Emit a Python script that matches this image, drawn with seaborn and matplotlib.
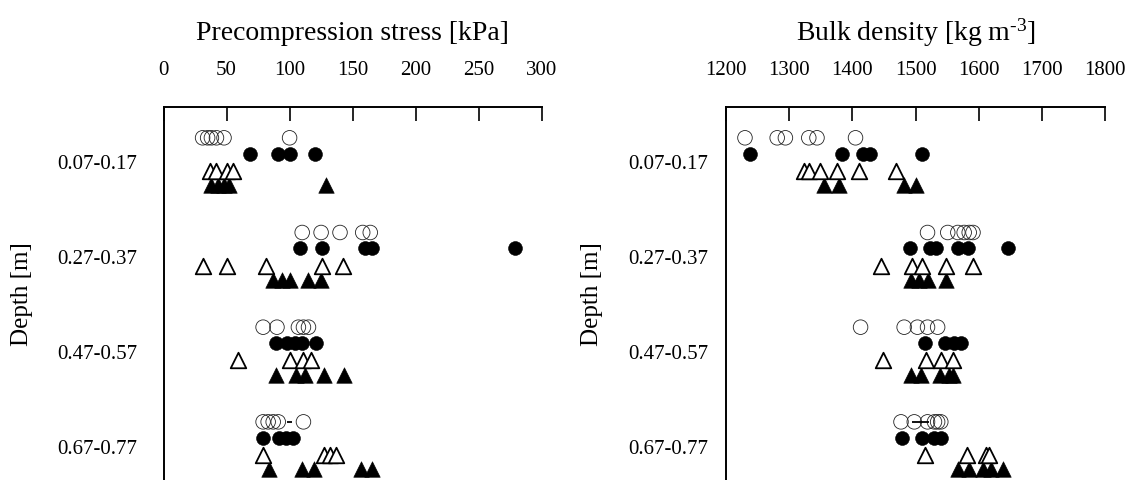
import numpy as np
import pandas as pd
import matplotlib
matplotlib.use("Agg")
import matplotlib.pyplot as plt
import seaborn as sns

# ---- data -------------------------------------------------------------
depths = ["0.07-0.17", "0.27-0.37", "0.47-0.57", "0.67-0.77"]

# Precompression stress [kPa], one list per depth layer
pc_open_circle = [[31, 35, 38, 42, 48, 100],
                  [110, 125, 140, 158, 164],
                  [79, 90, 107, 111, 115],
                  [79, 83, 87, 91, 111]]
pc_filled_circle = [[69, 91, 100, 120],
                    [108, 126, 160, 165, 279],
                    [89, 98, 104, 110, 121],
                    [79, 92, 97, 103]]
pc_open_triangle = [[37, 42, 50, 55],
                    [31, 50, 81, 126, 142],
                    [59, 100, 111, 117],
                    [79, 127, 132, 137]]
pc_filled_triangle = [[38, 43, 48, 52, 129],
                      [87, 94, 100, 115, 125],
                      [89, 105, 112, 127, 143],
                      [84, 110, 119, 157, 165]]

# Bulk density [kg m-3], one list per depth layer
bd_open_circle = [[1230, 1281, 1294, 1331, 1344, 1405],
                  [1519, 1551, 1567, 1577, 1585, 1591],
                  [1413, 1482, 1503, 1519, 1535],
                  [1477, 1498, 1519, 1530, 1535, 1540]]
bd_filled_circle = [[1238, 1384, 1417, 1428, 1511],
                    [1491, 1523, 1532, 1567, 1583, 1647],
                    [1515, 1546, 1561, 1572],
                    [1479, 1511, 1530, 1540]]
bd_open_triangle = [[1323, 1331, 1349, 1376, 1410, 1469],
                    [1445, 1495, 1511, 1548, 1591],
                    [1448, 1516, 1540, 1559],
                    [1515, 1581, 1612, 1617]]
bd_filled_triangle = [[1355, 1379, 1482, 1500],
                      [1493, 1506, 1519, 1548],
                      [1493, 1508, 1538, 1553, 1559],
                      [1567, 1585, 1607, 1620, 1638]]

# short range bars on the open-circle row of the deepest layer
pc_bar = [98, 102]
bd_bar = [1495, 1521]

pc_ticks = [0, 50, 100, 150, 200, 250, 300]
bd_ticks = [1200, 1300, 1400, 1500, 1600, 1700, 1800]

# ---- tidy table --------------------------------------------------------
series_order = ["filled_circle", "filled_triangle", "open_circle", "open_triangle"]
row_offset = {"open_circle": -0.25, "filled_circle": -0.083,
              "open_triangle": 0.10, "filled_triangle": 0.25}

panels = {
    "pc": {"open_circle": pc_open_circle, "filled_circle": pc_filled_circle,
           "open_triangle": pc_open_triangle, "filled_triangle": pc_filled_triangle},
    "bd": {"open_circle": bd_open_circle, "filled_circle": bd_filled_circle,
           "open_triangle": bd_open_triangle, "filled_triangle": bd_filled_triangle},
}

records = []
for panel, table in panels.items():
    for series, per_depth in table.items():
        for d, values in enumerate(per_depth):
            for v in values:
                records.append({"panel": panel, "series": series, "depth": d,
                                "row": d + row_offset[series], "value": v})
df = pd.DataFrame(records)

styles = {
    "open_circle": dict(marker="o", s=110, facecolor="none", edgecolor="#222222",
                        linewidth=0.6, zorder=3),
    "filled_circle": dict(marker="o", s=100, color="black", edgecolor="black",
                          linewidth=0.4, zorder=2),
    "open_triangle": dict(marker="^", s=125, color="white", edgecolor="black",
                          linewidth=1.3, zorder=4),
    "filled_triangle": dict(marker="^", s=125, color="black", edgecolor="black",
                            linewidth=0.4, zorder=2),
}

# ---- figure ------------------------------------------------------------
sns.set_style("white")
plt.rcParams["font.family"] = ["Liberation Serif", "DejaVu Serif"]
plt.rcParams["mathtext.fontset"] = "custom"
plt.rcParams["mathtext.rm"] = "Liberation Serif"
plt.rcParams["mathtext.it"] = "Liberation Serif:italic"
plt.rcParams["mathtext.bf"] = "Liberation Serif:bold"

fig = plt.figure(figsize=(11.3, 4.81), dpi=100)
ax_pc = fig.add_axes([0.1447, 0.0, 0.3347, 0.7755])
ax_bd = fig.add_axes([0.6425, 0.0, 0.3354, 0.7755])

setup = [
    (ax_pc, "pc", "Precompression stress [kPa]", pc_ticks, pc_bar, 19, -0.345),
    (ax_bd, "bd", r"Bulk density [kg m$^{\text{-3}}$]", bd_ticks, bd_bar, 13, -0.325),
]

for ax, key, xlabel, ticks, bar, ypad, ylab_x in setup:
    sub = df[df["panel"] == key]
    for series in series_order:
        pts = sub[sub["series"] == series]
        sns.scatterplot(data=pts, x="value", y="row", ax=ax, legend=False,
                        **styles[series])
    ax.hlines(3 + row_offset["open_circle"], bar[0], bar[1],
              color="black", linewidth=1.3, zorder=5)

    ax.set_xlim(ticks[0], ticks[-1])
    ax.set_ylim(3.364, -0.5755)
    ax.set_xticks(ticks)
    ax.set_xticklabels([str(t) for t in ticks])
    ax.set_yticks(range(len(depths)))
    ax.set_yticklabels(depths)

    ax.xaxis.tick_top()
    ax.xaxis.set_label_position("top")
    ax.tick_params(axis="x", direction="in", length=10, width=1.2,
                   pad=20, labelsize=15, colors="black")
    ax.tick_params(axis="y", length=0, pad=ypad, labelsize=15, colors="black")

    ax.set_xlabel(xlabel, fontsize=20, labelpad=15, color="black")
    ax.set_ylabel("Depth [m]", fontsize=18, color="black")
    ax.yaxis.set_label_coords(ylab_x, 0.5)

    for side in ("right", "bottom"):
        ax.spines[side].set_visible(False)
    for side in ("left", "top"):
        ax.spines[side].set_linewidth(1.4)
        ax.spines[side].set_color("black")
    ax.set_facecolor("white")

fig.savefig("out.png", dpi=100, facecolor="white")
